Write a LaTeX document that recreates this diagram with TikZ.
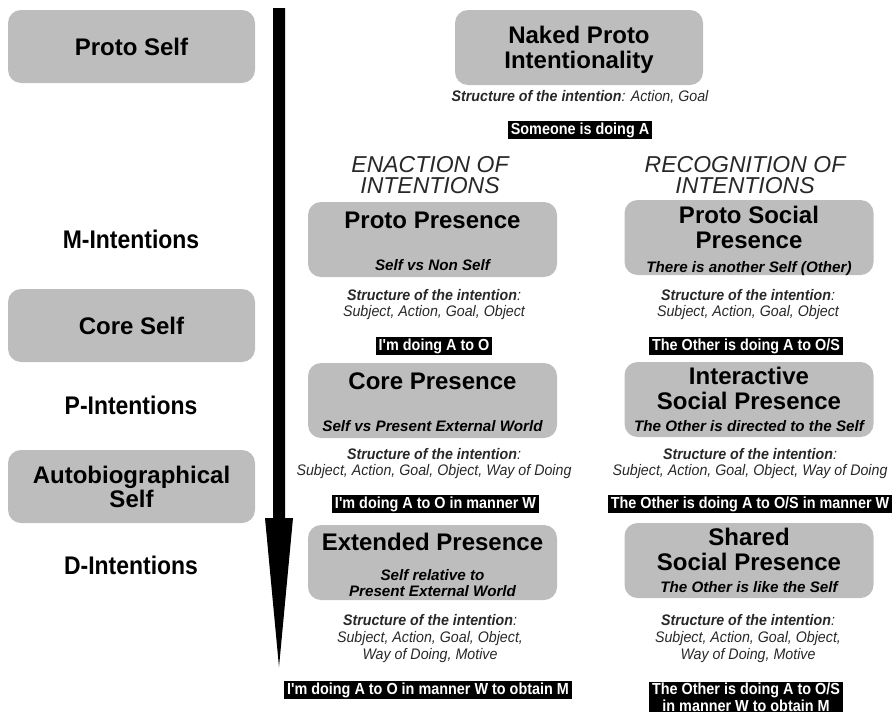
\documentclass[tikz,border=0pt]{standalone}
\usepackage{fontspec}
\setmainfont{Liberation Sans}
\newfontfamily\narrowfont[FakeStretch=0.9]{Liberation Sans}
\newfontfamily\snarrowfont[FakeStretch=0.93]{Liberation Sans}
\definecolor{boxgray}{RGB}{189,189,189}
\definecolor{txtgray}{RGB}{40,40,40}
\begin{document}
\begin{tikzpicture}[x=1pt,y=-1pt,
 graybox/.style={fill=boxgray, rounded corners=13pt, draw=none, inner sep=0pt},
 leftbox/.style={graybox, minimum width=247pt, minimum height=73pt, font=\fontsize{24}{24}\selectfont\bfseries, align=center},
 lefttxt/.style={font=\narrowfont\fontsize{25.5}{25}\selectfont\bfseries, inner sep=0pt},
 midbox/.style={graybox, minimum width=249pt, minimum height=75pt},
 titletxt/.style={font=\fontsize{24}{25}\selectfont\bfseries, anchor=base, inner sep=0pt},
 subtxt/.style={font=\fontsize{15.2}{16}\selectfont\bfseries\itshape, anchor=base, inner sep=0pt},
 headtxt/.style={font=\fontsize{23}{22}\selectfont\itshape, anchor=base, inner sep=0pt, text=txtgray},
 structtxt/.style={font=\snarrowfont\fontsize{15.3}{16}\selectfont\itshape, anchor=base, inner sep=0pt, text=txtgray},
 blabel/.style={fill=black, text=white, font=\narrowfont\fontsize{16}{17}\selectfont\bfseries, inner xsep=3pt, inner ysep=0pt, text height=13pt, text depth=5pt},
 blabeltwo/.style={fill=black, text=white, font=\narrowfont\fontsize{16}{17}\selectfont\bfseries, inner xsep=3pt, inner ysep=1pt, align=center}
]
\useasboundingbox (0,0) rectangle (893,715);
\newcommand{\structhead}{{\bfseries Structure of the intention}:}

% left column
\node[leftbox] (protoself) at (131.5,46.5) {Proto Self};
\node[lefttxt] (mint) at (131,239) {M-Intentions};
\node[leftbox] (coreself) at (131.5,325.5) {Core Self};
\node[lefttxt] (pint) at (131,405) {P-Intentions};
\node[leftbox] (autoself) at (131.5,486.5) {Autobiographical\\Self};
\node[lefttxt] (dint) at (131,565) {D-Intentions};

% arrow
\fill (273,8) -- (285,8) -- (285,518) -- (293,518) -- (279,667) -- (265,518) -- (273,518) -- cycle;

% top
\node[graybox, minimum width=248pt, minimum height=75pt] (naked) at (579,47.5) {};
\node[titletxt] (nakedA) at (579,43) {Naked Proto};
\node[titletxt] (nakedB) at (579,68) {Intentionality};
\node[structtxt] (nakedS) at (580,101) {\structhead{} Action, Goal};
\node[blabel] (someone) at (580,130) {Someone is doing A};

\node[headtxt] (enA) at (430,172) {ENACTION OF};
\node[headtxt] (enB) at (430,193) {INTENTIONS};
\node[headtxt] (reA) at (745,172) {RECOGNITION OF};
\node[headtxt] (reB) at (745,193) {INTENTIONS};

% row 1
\node[midbox] (pp) at (432.5,239.5) {};
\node[titletxt] (ppT) at (432.5,228) {Proto Presence};
\node[subtxt] (ppS) at (432.5,270) {Self vs Non Self};
\node[midbox] (psp) at (749,237.5) {};
\node[titletxt] (pspT1) at (749,223) {Proto Social};
\node[titletxt] (pspT2) at (749,248) {Presence};
\node[subtxt] (pspS) at (749,272) {There is another Self (Other)};
\node[structtxt] (s1a) at (434,300) {\structhead};
\node[structtxt] (s1b) at (434,316) {Subject, Action, Goal, Object};
\node[structtxt] (s1c) at (748,300) {\structhead};
\node[structtxt] (s1d) at (748,316) {Subject, Action, Goal, Object};
\node[blabel] (l1a) at (434,346) {I'm doing A to O};
\node[blabel] (l1b) at (746,346) {The Other is doing A to O/S};

% row 2
\node[midbox] (cp) at (432.5,400.5) {};
\node[titletxt] (cpT) at (432.5,389) {Core Presence};
\node[subtxt] (cpS) at (432.5,431) {Self vs Present External World};
\node[midbox] (isp) at (749,399.5) {};
\node[titletxt] (ispT1) at (749,384) {Interactive};
\node[titletxt] (ispT2) at (749,409) {Social Presence};
\node[subtxt] (ispS) at (749,431) {The Other is directed to the Self};
\node[structtxt] (s2a) at (434,459) {\structhead};
\node[structtxt] (s2b) at (434,475) {Subject, Action, Goal, Object, Way of Doing};
\node[structtxt] (s2c) at (750,459) {\structhead};
\node[structtxt] (s2d) at (750,475) {Subject, Action, Goal, Object, Way of Doing};
\node[blabel] (l2a) at (435.5,504) {I'm doing A to O in manner W};
\node[blabel] (l2b) at (750,504) {The Other is doing A to O/S in manner W};

% row 3
\node[midbox] (ep) at (432.5,562.5) {};
\node[titletxt] (epT) at (432.5,550) {Extended Presence};
\node[subtxt] (epS1) at (432.5,580) {Self relative to};
\node[subtxt] (epS2) at (432.5,596) {Present External World};
\node[midbox] (ssp) at (749,560.5) {};
\node[titletxt] (sspT1) at (749,545) {Shared};
\node[titletxt] (sspT2) at (749,570) {Social Presence};
\node[subtxt] (sspS) at (749,592) {The Other is like the Self};
\node[structtxt] (s3a) at (430,625) {\structhead};
\node[structtxt] (s3b) at (430,642) {Subject, Action, Goal, Object,};
\node[structtxt] (s3c) at (430,659) {Way of Doing, Motive};
\node[structtxt] (s3d) at (748,625) {\structhead};
\node[structtxt] (s3e) at (748,642) {Subject, Action, Goal, Object,};
\node[structtxt] (s3f) at (748,659) {Way of Doing, Motive};
\node[blabel] (l3a) at (428,690) {I'm doing A to O in manner W to obtain M};
\node[blabeltwo] (l3b) at (746,697) {The Other is doing A to O/S\\in manner W to obtain M};
\end{tikzpicture}
\end{document}
